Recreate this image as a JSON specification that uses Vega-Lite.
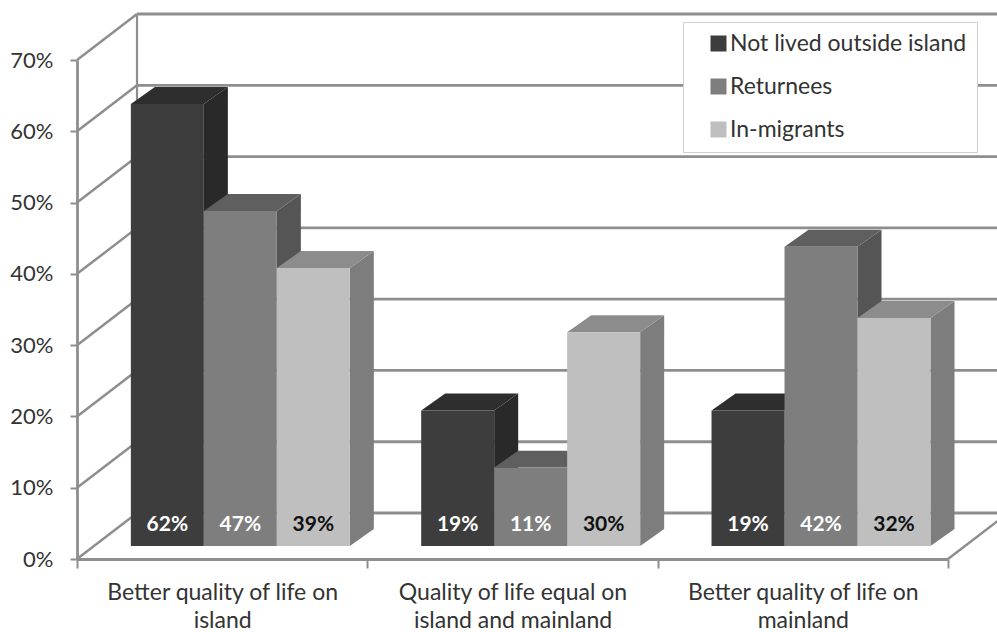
{
"$schema":"https://vega.github.io/schema/vega-lite/v6.json",
"width":871,"height":499,
"autosize":{"type":"none"},
"padding":{"left":77,"top":60,"right":49,"bottom":73},
"background":"white",
"config":{"view":{"stroke":null},"font":"Lato"},
"datasets":{
"bars":[
{"category":"Better quality of life on island","series":"Not lived outside island","value":0.62},
{"category":"Better quality of life on island","series":"Returnees","value":0.47},
{"category":"Better quality of life on island","series":"In-migrants","value":0.39},
{"category":"Quality of life equal on island and mainland","series":"Not lived outside island","value":0.19},
{"category":"Quality of life equal on island and mainland","series":"Returnees","value":0.11},
{"category":"Quality of life equal on island and mainland","series":"In-migrants","value":0.30},
{"category":"Better quality of life on mainland","series":"Not lived outside island","value":0.19},
{"category":"Better quality of life on mainland","series":"Returnees","value":0.42},
{"category":"Better quality of life on mainland","series":"In-migrants","value":0.32}
],
"levels":[{"level":0},{"level":0.1},{"level":0.2},{"level":0.3},{"level":0.4},{"level":0.5},{"level":0.6},{"level":0.7}]
},
"resolve":{"scale":{"color":"independent"}},
"layer":[
{"data":{"name":"levels"},
 "transform":[{"calculate":"datum.level+0.0645","as":"wall"}],
 "mark":{"type":"rule","color":"#8e8e8e","strokeWidth":2.8},
 "encoding":{
  "y":{"field":"wall","type":"quantitative","scale":{"domain":[0,0.7],"nice":false,"zero":false},
   "axis":{"title":null,"grid":false,"values":[0,0.1,0.2,0.3,0.4,0.5,0.6,0.7],"format":".0%","labelFontSize":22,"labelColor":"#333","labelPadding":17,"tickSize":7,"tickColor":"#8e8e8e","tickWidth":2,"domainColor":"#8e8e8e","domainWidth":2.8}},
  "x":{"datum":0.2067,"type":"quantitative","scale":{"domain":[0,3],"nice":false,"zero":false},
   "axis":{"title":null,"grid":false,"values":[0,0.5,1,1.5,2,2.5,3],
    "labelExpr":"datum.value==0.5?['Better quality of life on','island']:datum.value==1.5?['Quality of life equal on','island and mainland']:datum.value==2.5?['Better quality of life on','mainland']:''",
    "labelFontSize":23,"labelColor":"#333","labelLineHeight":28,"labelPadding":13,"labelOverlap":false,"labelBound":false,"labelFlush":false,"labelBaseline":"top","labelLimit":400,
    "tickSize":9,"tickWidth":2,"tickColor":"#8e8e8e","tickOpacity":{"condition":{"test":"datum.value%1!=0","value":0},"value":1},
    "domainColor":"#8e8e8e","domainWidth":2.8}},
  "x2":{"datum":3.2}
 }},
{"data":{"name":"levels"},
 "transform":[{"calculate":"[0,1]","as":"t"},{"flatten":["t"]},{"calculate":"datum.t*0.2067","as":"px"},{"calculate":"datum.level+datum.t*0.0645","as":"py"}],
 "mark":{"type":"line","color":"#8e8e8e","strokeWidth":2.5},
 "encoding":{"x":{"field":"px","type":"quantitative"},"y":{"field":"py","type":"quantitative"},"detail":{"field":"level"},"order":{"field":"t"}}},
{"data":{"name":"levels"},
 "transform":[{"filter":"datum.level==0"},{"calculate":"[0,1]","as":"t"},{"flatten":["t"]},{"calculate":"3+datum.t*0.2067","as":"px"},{"calculate":"datum.t*0.0645","as":"py"}],
 "mark":{"type":"line","color":"#8e8e8e","strokeWidth":2.5},
 "encoding":{"x":{"field":"px","type":"quantitative"},"y":{"field":"py","type":"quantitative"},"order":{"field":"t"}}},
{"data":{"name":"levels"},
 "transform":[{"filter":"datum.level==0"}],
 "mark":{"type":"rule","color":"#8e8e8e","strokeWidth":2.2},
 "encoding":{"x":{"datum":0.2067},"y":{"datum":0.0645},"y2":{"datum":0.7645}}},
{"data":{"name":"bars"},
 "transform":[
  {"calculate":"indexof(['Better quality of life on island','Quality of life equal on island and mainland','Better quality of life on mainland'],datum.category)","as":"c"},
  {"calculate":"indexof(['Not lived outside island','Returnees','In-migrants'],datum.series)","as":"s"},
  {"calculate":"datum.c+0.1855+(datum.s+1)*0.2514","as":"xr"},
  {"calculate":"[0,1]","as":"t"},{"flatten":["t"]},
  {"calculate":"datum.xr+datum.t*0.0827","as":"px"},
  {"calculate":"0.0182+datum.t*0.0238","as":"py0"},
  {"calculate":"datum.py0+datum.value","as":"py1"},
  {"calculate":"datum.c+'-'+datum.s","as":"id"}],
 "mark":{"type":"area","orient":"vertical"},
 "encoding":{"x":{"field":"px","type":"quantitative"},"y":{"field":"py0","type":"quantitative","stack":null},"y2":{"field":"py1"},"detail":{"field":"id"},
  "color":{"field":"series","type":"nominal","legend":null,"scale":{"domain":["Not lived outside island","Returnees","In-migrants"],"range":["#292929","#555555","#7d7d7d"]}}}},
{"data":{"name":"bars"},
 "transform":[
  {"calculate":"indexof(['Better quality of life on island','Quality of life equal on island and mainland','Better quality of life on mainland'],datum.category)","as":"c"},
  {"calculate":"indexof(['Not lived outside island','Returnees','In-migrants'],datum.series)","as":"s"},
  {"calculate":"datum.c+0.1855+datum.s*0.2514","as":"xl"},
  {"calculate":"[0,1]","as":"t"},{"flatten":["t"]},
  {"calculate":"datum.xl+datum.t*0.0827","as":"px"},
  {"calculate":"datum.px+0.2514","as":"px2"},
  {"calculate":"0.0182+datum.value+datum.t*0.0238","as":"py"},
  {"calculate":"datum.c+'-'+datum.s","as":"id"}],
 "mark":{"type":"area","orient":"horizontal"},
 "encoding":{"y":{"field":"py","type":"quantitative"},"x":{"field":"px","type":"quantitative","stack":null},"x2":{"field":"px2"},"detail":{"field":"id"},
  "color":{"field":"series","type":"nominal","legend":null,"scale":{"domain":["Not lived outside island","Returnees","In-migrants"],"range":["#2e2e2e","#5f5f5f","#8c8c8c"]}}}},
{"data":{"name":"bars"},
 "transform":[
  {"calculate":"indexof(['Better quality of life on island','Quality of life equal on island and mainland','Better quality of life on mainland'],datum.category)","as":"c"},
  {"calculate":"indexof(['Not lived outside island','Returnees','In-migrants'],datum.series)","as":"s"},
  {"calculate":"datum.c+0.1855+datum.s*0.2514","as":"xl"},
  {"calculate":"datum.xl+0.2514","as":"xr"},
  {"calculate":"0.0182+datum.value","as":"yt"},
  {"calculate":"0.0182","as":"yb"}],
 "mark":{"type":"rect"},
 "encoding":{"x":{"field":"xl","type":"quantitative"},"x2":{"field":"xr"},"y":{"field":"yt","type":"quantitative"},"y2":{"field":"yb"},
  "color":{"field":"series","type":"nominal","scale":{"domain":["Not lived outside island","Returnees","In-migrants"],"range":["#3d3d3d","#7e7e7e","#bfbfbf"]},
   "legend":{"title":null,"orient":"none","legendX":606,"legendY":-38,"fillColor":"white","strokeColor":"#cfcfcf","padding":10,"symbolOffset":14,"symbolType":"square","symbolSize":256,"symbolStrokeWidth":0,"labelFontSize":23,"labelColor":"#333","labelOffset":0,"rowPadding":19,"labelLimit":400}}}},
{"data":{"name":"bars"},
 "transform":[
  {"calculate":"indexof(['Better quality of life on island','Quality of life equal on island and mainland','Better quality of life on mainland'],datum.category)","as":"c"},
  {"calculate":"indexof(['Not lived outside island','Returnees','In-migrants'],datum.series)","as":"s"},
  {"calculate":"datum.c+0.1855+(datum.s+0.5)*0.2514","as":"xm"},
  {"calculate":"0.047","as":"ym"}],
 "mark":{"type":"text","fontSize":21,"fontWeight":"bold","baseline":"middle"},
 "encoding":{"x":{"field":"xm","type":"quantitative"},"y":{"field":"ym","type":"quantitative"},"text":{"field":"value","format":".0%"},
  "color":{"condition":{"test":"datum.series=='In-migrants'","value":"#111111"},"value":"#ffffff"}}}
]
}
